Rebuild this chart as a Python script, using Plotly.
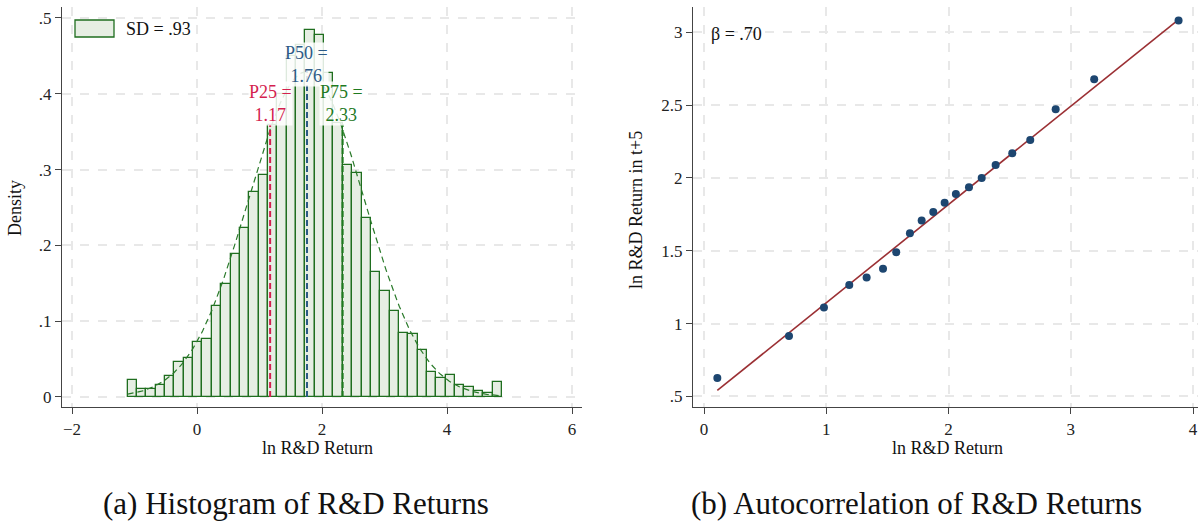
import numpy as np
import plotly.graph_objects as go

# ---------------- data ----------------
bin_start = -1.11
bin_width = 0.1497
hist_density = [0.022, 0.0106, 0.0106, 0.0163, 0.028, 0.0466, 0.052, 0.072, 0.077, 0.120,
                0.149, 0.189, 0.2225, 0.270, 0.293, 0.359, 0.400, 0.450, 0.465, 0.484,
                0.478, 0.427, 0.361, 0.306, 0.296, 0.2366, 0.165, 0.140, 0.1135, 0.085,
                0.083, 0.0616, 0.0334, 0.0255, 0.0286, 0.0163, 0.0136, 0.0084, 0.0053, 0.0198]
fit_mean = 1.75
fit_sd = 0.93
pct_names = ["P25", "P50", "P75"]
pct_values = [1.17, 1.76, 2.33]

bin_x = [0.109, 0.695, 0.981, 1.188, 1.330, 1.464, 1.572, 1.684, 1.780, 1.875,
         1.968, 2.060, 2.167, 2.271, 2.385, 2.521, 2.668, 2.876, 3.191, 3.881]
bin_y5 = [0.626, 0.914, 1.110, 1.264, 1.316, 1.376, 1.490, 1.621, 1.707, 1.767,
          1.829, 1.890, 1.936, 2.000, 2.089, 2.169, 2.261, 2.471, 2.677, 3.081]
fit_line_x = [0.109, 3.881]
fit_line_y = [0.541, 3.088]

hist_xticks = [-2, 0, 2, 4, 6]
hist_yticks = [0, 0.1, 0.2, 0.3, 0.4, 0.5]
hist_yticktext = ["0", ".1", ".2", ".3", ".4", ".5"]
sc_xticks = [0, 1, 2, 3, 4]
sc_yticks = [0.5, 1, 1.5, 2, 2.5, 3]
sc_yticktext = [".5", "1", "1.5", "2", "2.5", "3"]

# ---------------- figure ----------------
W, H = 1198, 524
FONT = "Liberation Serif"
BAR_FILL = "#e6eee3"
BAR_LINE = "#1f6e1f"
CURVE = "#2a7a2a"
PCT_COLORS = ["#d41f4f", "#2c5a86", "#1f7a1f"]
PCT_TOPS = [0.36, 0.43, 0.36]
LABEL_X = [1.168, 1.755, 2.315]
LABEL_Y = [0.387, 0.438, 0.387]


def px_x(p):
    return p / W


def px_y(p):
    return 1 - p / H


fig = go.Figure()

centers = [bin_start + bin_width * (i + 0.5) for i in range(len(hist_density))]
fig.add_trace(go.Bar(x=centers, y=hist_density, width=bin_width,
                     marker=dict(color=BAR_FILL, line=dict(color=BAR_LINE, width=1.3)),
                     xaxis="x", yaxis="y", showlegend=False, hoverinfo="skip"))

edges_lo = bin_start
edges_hi = bin_start + bin_width * len(hist_density)
cx = np.linspace(edges_lo, edges_hi, 300)
cy = np.exp(-0.5 * ((cx - fit_mean) / fit_sd) ** 2) / (fit_sd * np.sqrt(2 * np.pi))
fig.add_trace(go.Scatter(x=cx, y=cy, mode="lines",
                         line=dict(color=CURVE, width=1.2, dash="6px,4px"),
                         xaxis="x", yaxis="y", showlegend=False, hoverinfo="skip"))

for name, v, c, top in zip(pct_names, pct_values, PCT_COLORS, PCT_TOPS):
    fig.add_trace(go.Scatter(x=[v, v], y=[0, top], mode="lines",
                             line=dict(color=c, width=2, dash="6px,3px"),
                             xaxis="x", yaxis="y", showlegend=False, hoverinfo="skip"))

fig.add_trace(go.Scatter(x=fit_line_x, y=fit_line_y, mode="lines",
                         line=dict(color="#9b3034", width=1.6),
                         xaxis="x2", yaxis="y2", showlegend=False, hoverinfo="skip"))
fig.add_trace(go.Scatter(x=bin_x, y=bin_y5, mode="markers",
                         marker=dict(color="#1d4670", size=8),
                         xaxis="x2", yaxis="y2", showlegend=False, hoverinfo="skip"))

axis_common = dict(showline=True, linecolor="#444444", linewidth=1.3,
                   ticks="outside", ticklen=6, tickcolor="#444444", tickwidth=1.2,
                   showgrid=True, gridcolor="#e8e8e8", gridwidth=1.5, griddash="dash",
                   zeroline=False, tickfont=dict(family=FONT, size=17, color="#222222"),
                   mirror=False)

fig.update_layout(
    width=W, height=H,
    margin=dict(l=0, r=0, t=0, b=0),
    paper_bgcolor="white", plot_bgcolor="white",
    bargap=0,
    xaxis=dict(domain=[px_x(62), px_x(582)], range=[-2.16, 6.16],
               tickvals=hist_xticks, anchor="y", **axis_common),
    yaxis=dict(domain=[px_y(407), px_y(7)], range=[-0.0132, 0.5145],
               tickvals=hist_yticks, ticktext=hist_yticktext, anchor="x", **axis_common),
    xaxis2=dict(domain=[px_x(693), 1.0], range=[-0.09, 4.04],
                tickvals=sc_xticks, anchor="y2", **axis_common),
    yaxis2=dict(domain=[px_y(407), px_y(7)], range=[0.427, 3.174],
                tickvals=sc_yticks, ticktext=sc_yticktext, anchor="x2", **axis_common),
)

ann = []
for name, v, c, lx, ly in zip(pct_names, pct_values, PCT_COLORS, LABEL_X, LABEL_Y):
    ann.append(dict(x=lx, y=ly, xref="x", yref="y", text=f"{name} =<br>{v:.2f}",
                    xanchor="center", yanchor="middle", align="center",
                    showarrow=False, font=dict(family=FONT, size=18, color=c),
                    bgcolor="rgba(255,255,255,0.85)", borderpad=0))

# legend (manual)
shapes = [dict(type="rect", xref="paper", yref="paper",
               x0=px_x(75), x1=px_x(114), y0=px_y(37), y1=px_y(20),
               fillcolor=BAR_FILL, line=dict(color=BAR_LINE, width=1.3))]


def txt(x, y, s, size, angle=0):
    return dict(x=px_x(x), y=px_y(y), xref="paper", yref="paper", text=s,
                showarrow=False, xanchor="center", yanchor="middle", textangle=angle,
                font=dict(family=FONT, size=size, color="#111111"))


leg = txt(124, 29, "SD = .93", 18)
leg["xanchor"] = "left"
ann.append(leg)
beta = txt(709, 34, "β = .70", 18)
beta["xanchor"] = "left"
ann.append(beta)

# axis titles
ann.append(txt(317, 448, "ln R&D Return", 18))
ann.append(txt(948, 448, "ln R&D Return", 18))
ann.append(txt(15, 208, "Density", 18, -90))
ann.append(txt(636, 210, "ln R&D Return in t+5", 18, -90))

# captions
ann.append(txt(296, 503, "(a) Histogram of R&D Returns", 31))
ann.append(txt(916, 503, "(b) Autocorrelation of R&D Returns", 31))

fig.update_layout(annotations=ann, shapes=shapes)
fig.write_html("out.html")
